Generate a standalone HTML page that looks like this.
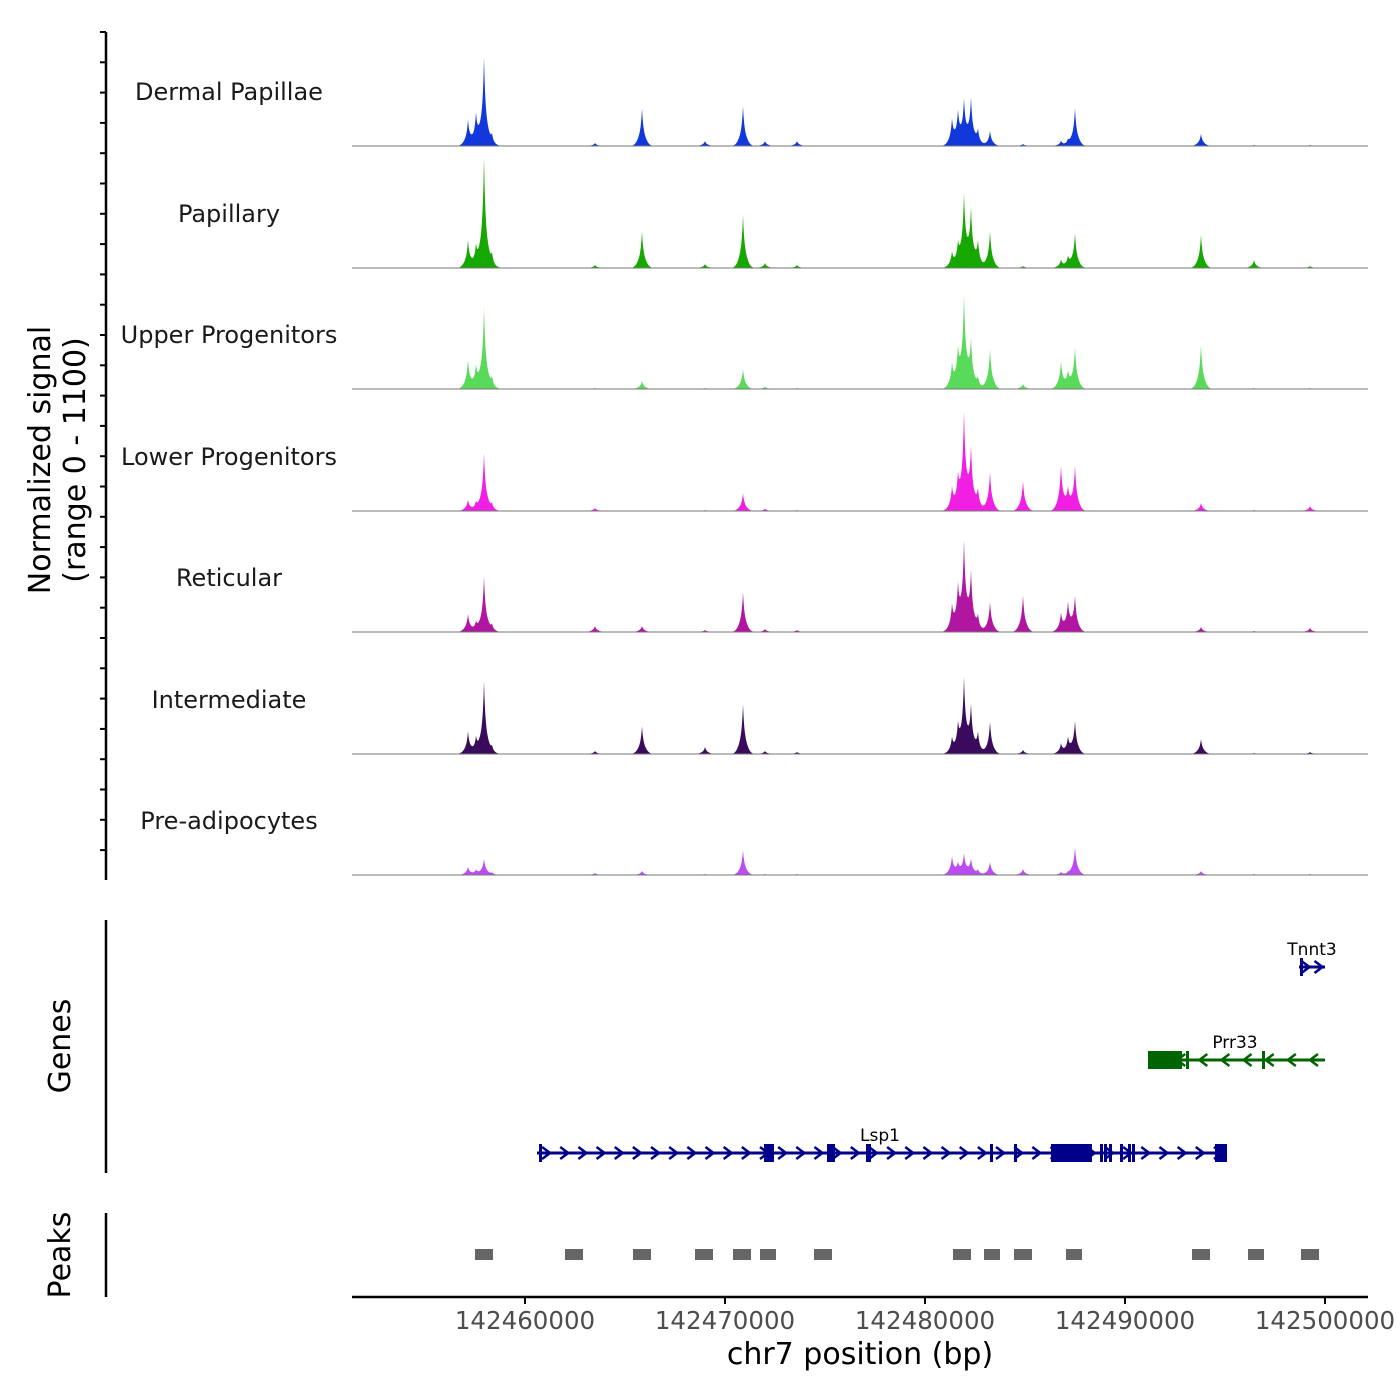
<!DOCTYPE html>
<html><head><meta charset="utf-8"><style>
html,body{margin:0;padding:0;background:#fff;}
svg{display:block;font-family:"DejaVu Sans","Liberation Sans",sans-serif;}
</style></head><body>
<svg id="chart" width="1400" height="1400" viewBox="0 0 1400 1400">
<text x="54" y="460" transform="rotate(-90 54 460)" text-anchor="middle" font-size="30" fill="#000"><tspan x="54" dy="-4">Normalized signal</tspan><tspan x="54" dy="35">(range 0 - 1100)</tspan></text>
<text x="70" y="1046" transform="rotate(-90 70 1046)" text-anchor="middle" font-size="30">Genes</text>
<text x="70" y="1255" transform="rotate(-90 70 1255)" text-anchor="middle" font-size="30">Peaks</text>
<text x="860" y="1364" text-anchor="middle" font-size="30">chr7 position (bp)</text>
<g id="g"></g>
</svg>
<script>
// ---- data ----
const trackNames = ["Dermal Papillae","Papillary","Upper Progenitors","Lower Progenitors","Reticular","Intermediate","Pre-adipocytes"];
const trackColors = ["#1238dc","#16a700","#5ada5a","#f01fe3","#b0169f","#3a0a5c","#ba4cf2"];
const peakCenters = [142457150,142457550,142457950,142458350,142463500,142465850,142469000,142470900,142472000,142473600,142481350,142481650,142481950,142482300,142482650,142483250,142484900,142486800,142487150,142487500,142493800,142496450,142499250];
const sigDP   = [230,270,790,90,27,340,45,360,45,45,225,270,380,410,135,135,18,45,45,340,110,9,9];
const sigPap  = [250,180,990,110,27,330,36,480,45,27,135,180,630,500,225,330,18,72,90,310,300,72,18];
const sigUp   = [260,190,730,90,9,72,9,180,20,9,215,300,800,410,90,360,45,240,135,370,400,9,9];
const sigLow  = [100,72,520,60,27,0,9,160,20,9,200,260,845,530,180,350,270,400,180,400,72,9,45];
const sigRet  = [160,80,495,60,54,54,18,360,27,18,225,360,765,510,135,270,330,160,250,315,45,9,36];
const sigInt  = [200,135,650,60,27,250,63,450,27,18,135,225,650,405,180,290,36,90,135,290,135,9,18];
const sigPre  = [72,45,145,20,18,36,9,225,9,9,160,90,180,135,45,117,54,27,18,250,36,9,9];
const trackSignals = [sigDP,sigPap,sigUp,sigLow,sigRet,sigInt,sigPre];
const xTicks = [142460000,142470000,142480000,142490000,142500000];
const lsp1Exons = [[142460700,142460800],[142471950,142472450],[142475100,142475500],[142477050,142477300],[142483250,142483350],[142484450,142484550],[142486300,142488350],[142488750,142488850],[142488950,142489050],[142489200,142489300],[142489750,142489850],[142490150,142490250],[142490350,142490450],[142494500,142495100]];
const prr33Exons = [[142491150,142492850],[142493050,142493150],[142496850,142496950]];
const tnnt3Exons = [[142498750,142498850]];
const peakRegions = [[142457500,142458400],[142462000,142462900],[142465400,142466300],[142468500,142469400],[142470400,142471300],[142471750,142472550],[142474450,142475350],[142481400,142482300],[142482950,142483750],[142484450,142485350],[142487050,142487850],[142493350,142494250],[142496150,142496950],[142498800,142499700]];

// ---- scales ----
const X0=352,X1=1368,D0=142451350,D1=142502150;
const xs=v=>X0+(v-D0)/(D1-D0)*(X1-X0);
const baselines=[146,268,389,511,632,754,875];
const ys=(v,b)=>b-v/1100*121.5;
const NS="http://www.w3.org/2000/svg";
const g=document.getElementById('g');
function mk(t,a,p){const e=document.createElementNS(NS,t);for(const k in a)e.setAttribute(k,a[k]);(p||g).appendChild(e);return e;}

let ax=mk('line',{x1:106,y1:32,x2:106,y2:880,stroke:'#000','stroke-width':2.5});


for(let y=32;y<=880;y+=30.3){const t=mk('line',{x1:100,y1:y,x2:106,y2:y,stroke:'#000','stroke-width':2});

}

trackNames.forEach((nm,i)=>{
  const b=baselines[i],sig=trackSignals[i];
  let d=`M${X0},${b}`;
  for(let px=X0;px<=X1;px+=0.5){
    const bp=D0+(px-X0)/(X1-X0)*(D1-D0);let v=0;
    for(let k=0;k<peakCenters.length;k++){
      const dd=Math.abs(bp-peakCenters[k])/50;
      v+=sig[k]*(0.7*Math.exp(-dd/1.3)+0.3*Math.exp(-dd*dd/30));
    }
    if(v>1100)v=1100;
    d+=`L${px},${ys(v,b).toFixed(2)}`;
  }
  d+=`L${X1},${b}Z`;
  const p=mk('path',{d:d,fill:trackColors[i]});
  
  
  const l=mk('line',{x1:X0,y1:b,x2:X1,y2:b,stroke:'#777','stroke-width':1});
  
  
  const t=mk('text',{x:229,y:b-46,'text-anchor':'middle','font-size':24,fill:'#1a1a1a'});
  t.textContent=nm;
  
  
});

let ga=mk('line',{x1:106,y1:920,x2:106,y2:1173,stroke:'#000','stroke-width':2.5});


let pa=mk('line',{x1:106,y1:1213,x2:106,y2:1297,stroke:'#000','stroke-width':2.5});



function gene(name,s,e,y,exons,strand,col,lx,ly,nArrows){
  const grp=mk('g',{});
  
  
  mk('line',{x1:xs(s),y1:y,x2:xs(e),y2:y,stroke:col,'stroke-width':3},grp);
  const a=xs(s),bb=xs(e);
  for(let k=0;k<nArrows;k++){
    const x=a+(bb-a)*(k+0.5)/nArrows, dx=strand>0?4:-4;
    mk('polyline',{points:`${x-dx},${y-6} ${x+dx},${y} ${x-dx},${y+6}`,fill:'none',stroke:col,'stroke-width':2.5},grp);
  }
  exons.forEach(ex=>{const w=Math.max(3,xs(ex[1])-xs(ex[0]));
    mk('rect',{x:xs(ex[0]),y:y-9,width:w,height:18,fill:col},grp);});
  const t=mk('text',{x:lx,y:ly,'text-anchor':'middle','font-size':17,fill:'#000'},grp);
  t.textContent=name;
}
gene('Lsp1',142460600,142495100,1153,lsp1Exons,1,'#00008b',880,1141,38);
gene('Prr33',142491150,142500000,1060,prr33Exons,-1,'#006400',1235,1048,8);
gene('Tnnt3',142498700,142500000,967,tnnt3Exons,1,'#00008b',1312,955,2);

peakRegions.forEach(r=>{
  const p=mk('rect',{x:xs(r[0]),y:1249,width:xs(r[1])-xs(r[0]),height:11,fill:'#666'});
  
  
});

let xa=mk('line',{x1:X0,y1:1297,x2:X1,y2:1297,stroke:'#000','stroke-width':2.5});


xTicks.forEach(v=>{
  const t=mk('line',{x1:xs(v),y1:1297,x2:xs(v),y2:1304,stroke:'#000','stroke-width':2});
  
  
  const l=mk('text',{x:xs(v),y:1329,'text-anchor':'middle','font-size':24.5,fill:'#4d4d4d'});
  l.textContent=v;
  
  
});
</script>
</body></html>
